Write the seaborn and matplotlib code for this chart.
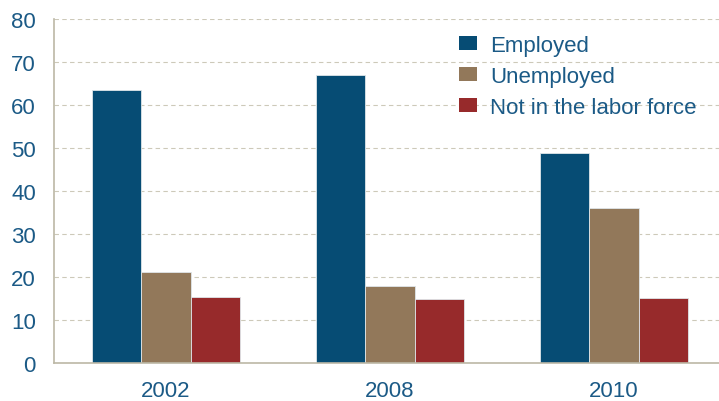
import matplotlib
matplotlib.use("Agg")
import matplotlib.pyplot as plt
import seaborn as sns
import pandas as pd
from matplotlib.ticker import FixedLocator

years = ["2002", "2008", "2010"]
statuses = ["Employed", "Unemployed", "Not in the labor force"]
employed = [63.4, 66.9, 48.8]
unemployed = [21.1, 17.8, 36.0]
not_in_lf = [15.3, 15.0, 15.1]
y_ticks = [0, 10, 20, 30, 40, 50, 60, 70, 80]

palette = ["#064c74", "#92785a", "#972a2b"]
text_color = "#1b5a86"
spine_color = "#bcb8a6"
grid_color = "#cdc9b9"

rows = []
for series_name, values in zip(statuses, [employed, unemployed, not_in_lf]):
    for yr, v in zip(years, values):
        rows.append({"year": yr, "status": series_name, "share": v})
df = pd.DataFrame(rows)

sns.set_style("white")
plt.rcParams["font.family"] = ["Liberation Sans", "DejaVu Sans"]

fig = plt.figure(figsize=(7.19, 4.02), dpi=100)
ax = fig.add_axes([54 / 719, 38 / 402, 672 / 719, 344 / 402])

sns.barplot(data=df, x="year", y="share", hue="status", hue_order=statuses,
            order=years, palette=palette, saturation=1, width=0.664, gap=0,
            edgecolor="#dfe6ea", linewidth=0.6, errorbar=None, ax=ax)

ax.set_xlim(-0.5, 2.5)
ax.set_ylim(0, 80)
ax.set_yticks(y_ticks)
ax.set_xlabel("")
ax.set_ylabel("")

ax.yaxis.grid(True, linestyle=(0, (4, 3)), color=grid_color, linewidth=0.8)
ax.set_axisbelow(True)

for side in ["top", "right"]:
    ax.spines[side].set_visible(False)
for side in ["left", "bottom"]:
    ax.spines[side].set_color(spine_color)
    ax.spines[side].set_linewidth(1.2)

ax.tick_params(axis="y", length=0, pad=13, labelsize=16, labelcolor=text_color)
ax.tick_params(axis="x", length=0, pad=12, labelsize=16, labelcolor=text_color)
ax.xaxis.set_minor_locator(FixedLocator([0.5, 1.5]))
ax.tick_params(axis="x", which="minor", direction="in", length=6,
               width=1.2, color="#d8d6cc")

leg = ax.legend(loc="upper left", bbox_to_anchor=(405 / 672, 1 - 16 / 344),
                frameon=False, fontsize=16, handlelength=0.82,
                handleheight=0.62, handletextpad=0.58, labelspacing=0.45,
                borderaxespad=0, borderpad=0)
for t in leg.get_texts():
    t.set_color(text_color)
for h in leg.legend_handles:
    h.set_edgecolor("none")

fig.savefig("out.png", dpi=100)
